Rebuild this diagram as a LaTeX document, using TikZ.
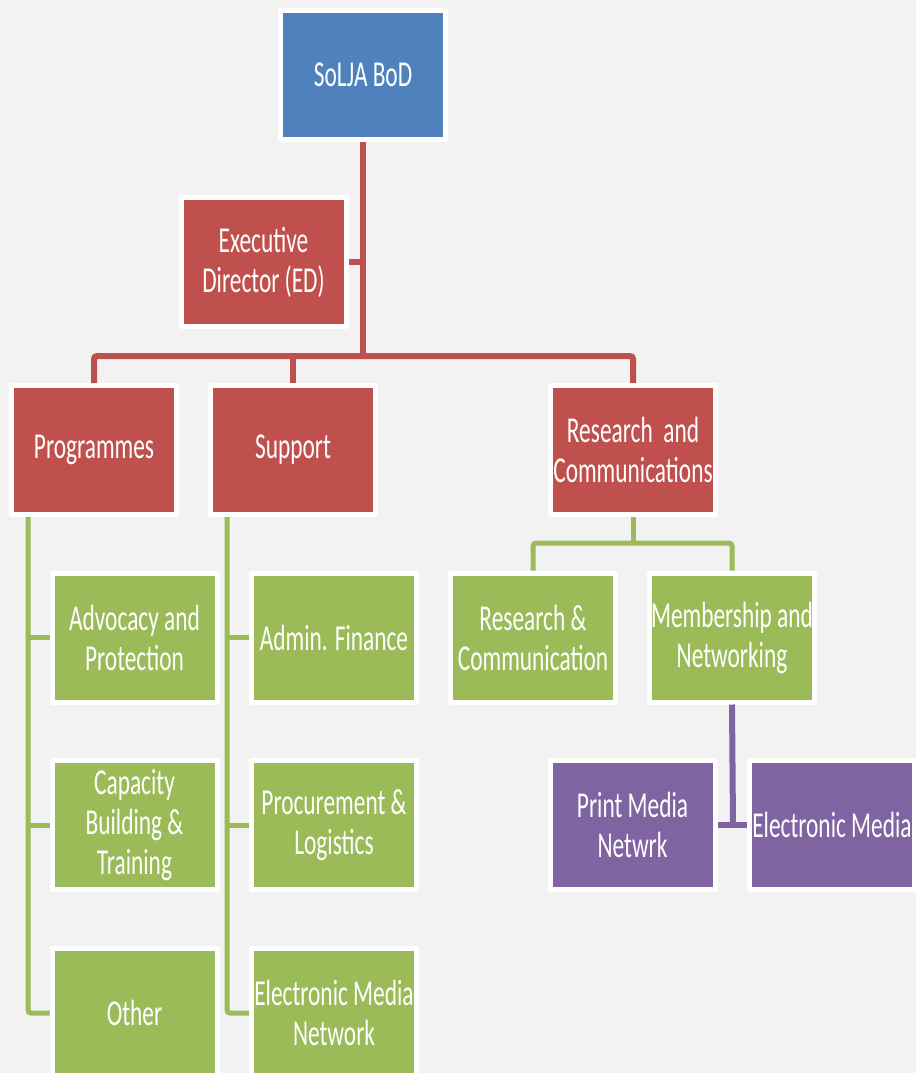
\documentclass[tikz,border=0pt]{standalone}
\usepackage{fontspec}
\setmainfont{Carlito}[FakeStretch=0.64]
\definecolor{bg}{HTML}{F2F2F2}
\definecolor{cblue}{HTML}{4F81BD}
\definecolor{cred}{HTML}{C0504D}
\definecolor{cgreen}{HTML}{9BBB59}
\definecolor{cpurple}{HTML}{8064A2}
\tikzset{
  box/.style={draw=white, line width=5pt, line join=round, minimum width=165pt, minimum height=129pt,
    inner sep=0pt, text=white, font=\fontsize{36.5}{40}\selectfont, align=center},
  bluebox/.style={box, fill=cblue},
  redbox/.style={box, fill=cred},
  greenbox/.style={box, fill=cgreen},
  purplebox/.style={box, fill=cpurple},
  redline/.style={draw=cred, line width=6pt, rounded corners=3pt},
  greenline/.style={draw=cgreen, line width=5pt, rounded corners=3pt},
  purpleline/.style={draw=cpurple, line width=6pt},
}
\begin{document}
\begin{tikzpicture}[x=1pt,y=-1pt]
\useasboundingbox (0,0) rectangle (916,1073);
\fill[bg] (0,0) rectangle (916,1073);

\node[bluebox] (bod) at (363,75) {SoLJA BoD};
\node[redbox] (ed) at (263.5,262) {Executive\\Director (ED)};
\node[redbox] (prog) at (94,450) {Programmes};
\node[redbox] (sup) at (293,450) {Support};
\node[redbox] (rc) at (633,450) {Research\ \ and\\Communications};

\node[greenbox] (adv) at (134.5,637.5) {Advocacy and\\Protection};
\node[greenbox] (cap) at (134.5,825) {Capacity\\Building \&\\Training};
\node[greenbox] (oth) at (134.5,1013) {Other};

\node[greenbox] (adm) at (334,637.5) {Admin. Finance};
\node[greenbox] (proc) at (334,825) {Procurement \&\\Logistics};
\node[greenbox] (emn) at (334,1013) {Electronic Media\\Network};

\node[greenbox] (rcc) at (533,637.5) {Research \&\\Communication};
\node[greenbox] (mem) at (732,637.5) {Membership and\\Networking};

\node[purplebox] (pm) at (632.5,825) {Print Media\\Netwrk};
\node[purplebox] (em) at (832,825) {Electronic Media};

% red connectors
\coordinate (j1) at (363,356);
\coordinate (jed) at (363,262);
\draw[redline] (bod.south) -- (j1);
\draw[redline] (ed.east) -- (jed);
\draw[redline] (prog.north) |- (j1) -| (rc.north);
\draw[redline] (sup.north) -- (sup.north |- j1);

% green connectors, left columns
\coordinate (pl) at (28,517);
\coordinate (sl) at (227,517);
\draw[greenline] (pl) |- (oth.west);
\draw[greenline] (adv.west) -- (adv.west -| pl);
\draw[greenline] (cap.west) -- (cap.west -| pl);
\draw[greenline] (sl) |- (emn.west);
\draw[greenline] (adm.west) -- (adm.west -| sl);
\draw[greenline] (proc.west) -- (proc.west -| sl);

% green connectors, right
\coordinate (gj) at (633,543);
\draw[greenline] (rc.south) -- (gj);
\draw[greenline] (rcc.north) |- (gj) -| (mem.north);

% purple connectors
\coordinate (pj) at (733,825);
\draw[purpleline] (mem.south) -- (pj);
\draw[purpleline] (pm.east) -- (em.west);
\end{tikzpicture}
\end{document}
